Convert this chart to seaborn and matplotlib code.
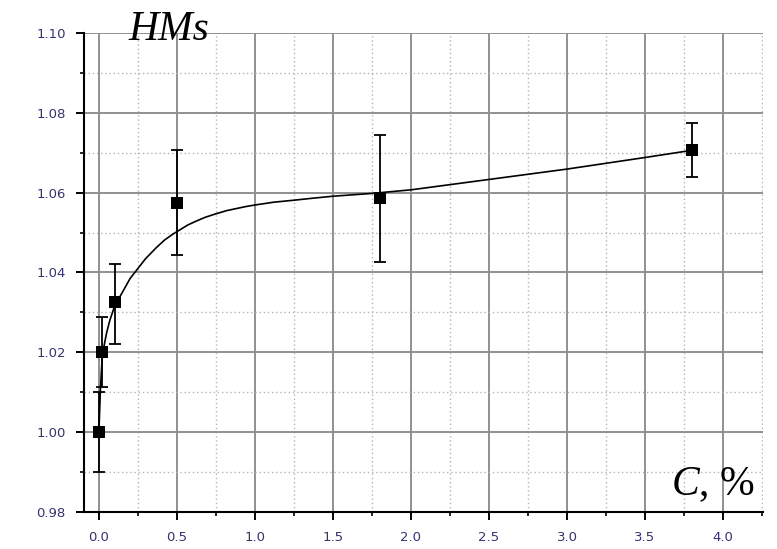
import matplotlib
matplotlib.use("Agg")
import matplotlib.pyplot as plt
from matplotlib.ticker import MultipleLocator, FormatStrFormatter
import seaborn as sns
import pandas as pd

# measured points
conc = [0.0, 0.02, 0.10, 0.50, 1.80, 3.80]
hms = [1.000, 1.020, 1.0325, 1.0575, 1.0587, 1.0707]
err_hi = [0.010, 0.0088, 0.0097, 0.0131, 0.0158, 0.0068]
err_lo = [0.010, 0.0088, 0.0105, 0.0131, 0.0162, 0.0069]

# fitted curve
curve_x = [0.0, 0.01, 0.02, 0.03, 0.05, 0.07, 0.10, 0.15, 0.20, 0.25, 0.30, 0.37,
           0.42, 0.47, 0.52, 0.57, 0.62, 0.68, 0.75, 0.82, 0.88, 0.94, 1.00,
           1.12, 1.25, 1.37, 1.50, 1.75, 2.00, 2.50, 3.00, 3.50, 3.80]
curve_y = [1.000, 1.011, 1.018, 1.021, 1.025, 1.028, 1.0315, 1.035, 1.0385, 1.041,
           1.0435, 1.0463, 1.0481, 1.0495, 1.0507, 1.0519, 1.0528, 1.0538, 1.0547,
           1.0555, 1.056, 1.0565, 1.0569, 1.0576, 1.0581, 1.0586, 1.0591, 1.0598,
           1.0607, 1.0633, 1.0659, 1.0688, 1.0706]

sns.set_style("white")
plt.rcParams["mathtext.fontset"] = "custom"
plt.rcParams["mathtext.it"] = "Liberation Serif:italic"
plt.rcParams["mathtext.rm"] = "Liberation Serif"

fig = plt.figure(figsize=(7.77, 5.49), dpi=100)
ax = fig.add_axes([0.108, 0.0674, 0.874, 0.8726])

pts = pd.DataFrame({"C": conc, "HMs": hms})
crv = pd.DataFrame({"C": curve_x, "HMs": curve_y})

ax.set_xlim(-0.096, 4.256)
ax.set_ylim(0.98, 1.10)

ax.xaxis.set_major_locator(MultipleLocator(0.5))
ax.xaxis.set_minor_locator(MultipleLocator(0.25))
ax.yaxis.set_major_locator(MultipleLocator(0.02))
ax.yaxis.set_minor_locator(MultipleLocator(0.01))
ax.xaxis.set_major_formatter(FormatStrFormatter("%.1f"))
ax.yaxis.set_major_formatter(FormatStrFormatter("%.2f"))

ax.grid(which="major", color="#909090", linewidth=1.4, linestyle="-", zorder=0)
ax.grid(which="minor", color="#b5b5b5", linewidth=1.0, linestyle=(0, (1, 2)), zorder=0)
ax.set_axisbelow(True)

sns.lineplot(data=crv, x="C", y="HMs", ax=ax, color="black", linewidth=1.2,
             sort=False, zorder=3)
ax.errorbar(conc, hms, yerr=[err_lo, err_hi], fmt="none", ecolor="black",
            elinewidth=1.3, capsize=4.5, capthick=1.3, zorder=4)
sns.scatterplot(data=pts, x="C", y="HMs", ax=ax, marker="s", s=80, color="black",
                edgecolor="black", linewidth=0, zorder=5)

for s in ["top", "right"]:
    ax.spines[s].set_visible(False)
for s in ["left", "bottom"]:
    ax.spines[s].set_color("black")
    ax.spines[s].set_linewidth(1.5)

ax.tick_params(which="major", direction="out", length=6, width=1.4, color="black",
               labelsize=9.5, labelcolor="#33336e", left=True, bottom=True)
ax.tick_params(axis="y", which="major", pad=7)
ax.tick_params(axis="x", which="major", pad=8)
ax.tick_params(which="minor", direction="out", length=3, width=1.2, color="black",
               left=True, bottom=True)
ax.set_xlabel("")
ax.set_ylabel("")

fig.text(0.165, 0.927, "HMs", fontsize=30, family="Liberation Serif", style="italic",
         color="black", ha="left", va="baseline")
fig.text(0.864, 0.098, r"$C$, %", fontsize=30, family="Liberation Serif",
         color="black", ha="left", va="baseline")

fig.savefig("out.png", dpi=100)
